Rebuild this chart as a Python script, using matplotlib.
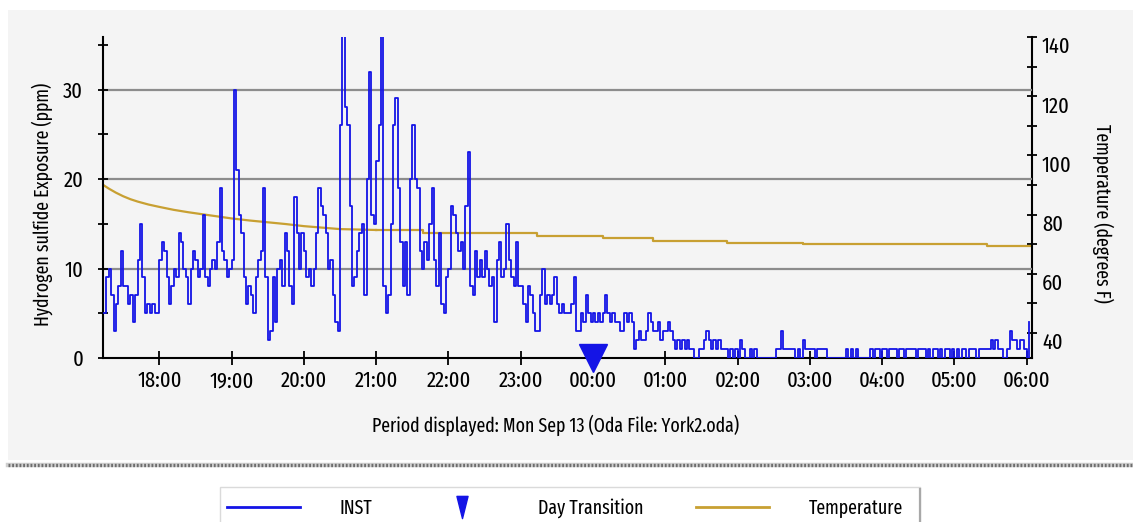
import numpy as np
import matplotlib
matplotlib.use("Agg")
import matplotlib.pyplot as plt
import matplotlib.transforms as mtransforms
from matplotlib.lines import Line2D
from matplotlib.patches import Rectangle
from matplotlib.path import Path
from matplotlib.ticker import FixedLocator, FuncFormatter

plt.rcParams['font.family'] = ['Fira Sans Extra Condensed', 'Roboto Condensed', 'DejaVu Sans']

# ---------------- data ----------------
# INST readings (ppm), 2-minute samples starting at 17:14
inst_17 = [5, 9, 10, 7, 3, 6, 8, 12, 8, 8, 6, 7, 4, 7, 11, 15, 9, 5, 6, 5, 6, 5, 5]
inst_18 = [11, 13, 12, 9, 6, 8, 10, 9, 14, 13, 10, 9, 6, 10, 12, 11, 9, 10, 16, 9,
           8, 10, 11, 10, 13, 19, 12, 11, 9, 10]
inst_19 = [11, 30, 21, 16, 14, 9, 6, 8, 7, 5, 9, 11, 12, 19, 9, 2, 3, 9, 4, 10,
           11, 8, 14, 12, 8, 6, 18, 14, 10, 14]
inst_20 = [12, 9, 10, 8, 10, 14, 19, 17, 16, 14, 10, 11, 7, 4, 3, 26, 36, 28, 26, 17,
           8, 9, 12, 14, 15, 7, 20, 32, 16, 15]
inst_21 = [22, 26, 36, 8, 5, 7, 15, 26, 29, 19, 13, 8, 13, 7, 20, 26, 20, 19, 12, 10,
           13, 11, 15, 19, 11, 8, 14, 6, 5, 9]
inst_22 = [10, 17, 16, 14, 12, 13, 10, 17, 23, 8, 7, 12, 9, 11, 9, 12, 10, 8, 9, 4,
           11, 13, 9, 10, 15, 11, 9, 8, 13, 8]
inst_23 = [8, 6, 4, 8, 7, 5, 3, 3, 7, 10, 6, 7, 6, 7, 9, 6, 5, 6, 5, 5,
           5, 6, 9, 3, 3, 5, 4, 7, 5, 4]
inst_00 = [5, 4, 5, 4, 5, 7, 5, 4, 5, 4, 4, 3, 3, 5, 4, 5, 4, 1, 2, 3,
           2, 2, 3, 5, 4, 3, 3, 4, 2, 3]
inst_01 = [3, 4, 3, 2, 1, 2, 1, 2, 1, 2, 1, 1, 0, 0, 1, 1, 2, 3, 2, 1,
           2, 1, 2, 1, 1, 1, 0, 1, 0, 1]
inst_02 = [0, 2, 1, 0, 0, 1, 0, 1, 0, 0, 0, 0, 0, 0, 0, 0, 1, 1, 3, 1,
           1, 1, 1, 1, 0, 1, 0, 2, 1, 1]
inst_03 = [1, 1, 0, 1, 1, 1, 1, 0, 0, 0, 0, 0, 0, 0, 0, 1, 0, 1, 0, 1,
           0, 0, 0, 0, 0, 1, 0, 1, 1, 0]
inst_04 = [1, 1, 0, 1, 1, 1, 0, 1, 1, 0, 1, 1, 1, 1, 0, 1, 1, 1, 0, 1,
           0, 1, 1, 0, 1, 0, 1, 1, 0, 1]
inst_05 = [0, 1, 0, 1, 1, 0, 1, 1, 1, 0, 1, 1, 1, 1, 1, 2, 1, 2, 1, 1,
           0, 0, 1, 3, 2, 2, 1, 2, 2, 1]
inst_06 = [0, 4]
inst_start_hour = 17 + 14 / 60
inst_step_hour = 2 / 60

# Temperature (degrees F): smooth early decline, then stepped plateau
temp_early_t = [17.225, 17.30, 17.40, 17.50, 17.60, 17.70, 17.85, 18.00, 18.20, 18.40,
                18.60, 18.80, 19.00, 19.25, 19.50, 19.75, 20.00, 20.25, 20.50, 21.00]
temp_early_v = [90.0, 88.8, 87.4, 86.2, 85.2, 84.4, 83.4, 82.6, 81.6, 80.8,
                80.1, 79.4, 78.7, 78.0, 77.4, 76.8, 76.1, 75.6, 75.1, 74.8]
temp_step_t = [21.00, 21.65, 23.22, 24.14, 24.83, 25.85, 26.90, 29.45, 30.066]
temp_step_v = [74.8, 73.8, 72.6, 72.0, 71.2, 70.5, 70.0, 69.4, 69.4]

day_transition_hour = 24.0
x_ticks = list(range(18, 31))
left_major = [0, 10, 20, 30]
left_minor = [5, 15, 25, 35]
right_major = [40, 60, 80, 100, 120, 140]
right_minor = [50, 70, 90, 110, 130]

# ---------------- figure ----------------
W, H = 1133, 522
fig = plt.figure(figsize=(W / 100, H / 100), dpi=100)
fig.patch.set_facecolor('white')

def fx(px):
    return px / W

def fy(py):
    return 1 - py / H

# grey panel
fig.add_artist(Rectangle((fx(8), fy(460)), fx(1133 - 8), (460 - 10) / H,
                         transform=fig.transFigure, facecolor='#F4F4F4',
                         edgecolor='none', zorder=0))
# separator line
fig.add_artist(Line2D([fx(8), 1.0], [fy(465), fy(465)], transform=fig.transFigure,
                      color='#CFCFCF', lw=3.2, zorder=1))
fig.add_artist(Line2D([fx(8), 1.0], [fy(465), fy(465)], transform=fig.transFigure,
                      color='#6E6E6E', lw=2.4, linestyle=(0, (0.55, 0.55)), zorder=1))

left, right, top, bottom = 103.3, 1031.5, 37, 358
ax = fig.add_axes([fx(left), fy(bottom), (right - left) / W, (bottom - top) / H])
ax.set_facecolor('none')
ax2 = ax.twinx()

inst = np.concatenate([inst_17, inst_18, inst_19, inst_20, inst_21, inst_22, inst_23,
                       inst_00, inst_01, inst_02, inst_03, inst_04, inst_05, inst_06])
inst_t = inst_start_hour + inst_step_hour * np.arange(len(inst))

blue = '#1414E6'
gold = '#C8A032'

ax2.plot(temp_early_t, temp_early_v, color=gold, lw=1.6, zorder=2)
ax2.plot(temp_step_t, temp_step_v, color=gold, lw=1.6, drawstyle='steps-post', zorder=2)
ax.plot(inst_t, inst, color=blue, lw=1.3, drawstyle='steps-post', zorder=3)
ax.plot([day_transition_hour], [0], marker='v', ms=19.5, color=blue, ls='none',
        clip_on=False, zorder=6)

ax.set_zorder(ax2.get_zorder() + 1)
ax.patch.set_visible(False)

ax.set_xlim(17.225, 30.066)
ax.set_ylim(0, 35.87)
ax2.set_ylim(31.55, 140)

# grid
for g in left_major[1:]:
    ax.axhline(g, color='#8C8C8C', lw=1.6, zorder=1)

ax.xaxis.set_major_locator(FixedLocator(x_ticks))
ax.xaxis.set_major_formatter(FuncFormatter(lambda v, p: f"{int(round(v)) % 24:02d}:00"))
ax.yaxis.set_major_locator(FixedLocator(left_major))
ax.yaxis.set_minor_locator(FixedLocator(left_minor))
ax2.yaxis.set_major_locator(FixedLocator(right_major))
ax2.yaxis.set_minor_locator(FixedLocator(right_minor))

for s in ['top', 'right']:
    ax.spines[s].set_visible(False)
for s in ['top', 'left', 'bottom']:
    ax2.spines[s].set_visible(False)
for a, s in [(ax, 'left'), (ax, 'bottom'), (ax2, 'right')]:
    a.spines[s].set_linewidth(1.5)
    a.spines[s].set_color('black')

ax.tick_params(axis='x', direction='inout', length=10, width=1.3, pad=4,
               labelsize=16, colors='black')
ax.tick_params(axis='y', which='both', direction='inout', length=7, width=1.3, pad=11,
               labelsize=16)
ax2.tick_params(axis='y', which='both', direction='inout', length=7, width=1.3, pad=4,
                labelsize=16)

offset = mtransforms.ScaledTranslation(0, -8 / 100, fig.dpi_scale_trans)
for lab in ax2.get_yticklabels():
    lab.set_transform(lab.get_transform() + offset)

fig.text(fx(42), fy(204), 'Hydrogen sulfide Exposure (ppm)', rotation=90,
         ha='center', va='center', fontsize=14)
fig.text(fx(1103), fy(213), 'Temperature (degrees F)', rotation=270,
         ha='center', va='center', fontsize=14)
fig.text(fx(556), fy(425), 'Period displayed: Mon Sep 13 (Oda File: York2.oda)',
         ha='center', va='center', fontsize=14)

# legend box
fig.add_artist(Rectangle((fx(220), fy(530)), fx(920 - 220), (530 - 487) / H,
                         transform=fig.transFigure, facecolor='white',
                         edgecolor='#DADADA', lw=1.0, zorder=2))
fig.add_artist(Line2D([fx(920), fx(920)], [fy(489), fy(522)], transform=fig.transFigure,
                      color='#A8A8A8', lw=1.6, zorder=3))
tall_tri = Path([(-0.5, 1.0), (0.5, 1.0), (0.0, -1.0), (-0.5, 1.0)],
                [Path.MOVETO, Path.LINETO, Path.LINETO, Path.CLOSEPOLY])
handles = [Line2D([], [], color=blue, lw=2.0),
           Line2D([], [], color=blue, marker=tall_tri, ms=16, ls='none'),
           Line2D([], [], color=gold, lw=2.0)]
leg = fig.legend(handles, ['INST', 'Day Transition', 'Temperature'],
                 loc='center left', bbox_to_anchor=(fx(227), fy(508)), ncol=3,
                 frameon=False, fontsize=14, handlelength=3.75, handletextpad=2.06,
                 columnspacing=2.7, borderpad=0, borderaxespad=0)
leg.set_zorder(4)

fig.savefig('out.png', dpi=100)
